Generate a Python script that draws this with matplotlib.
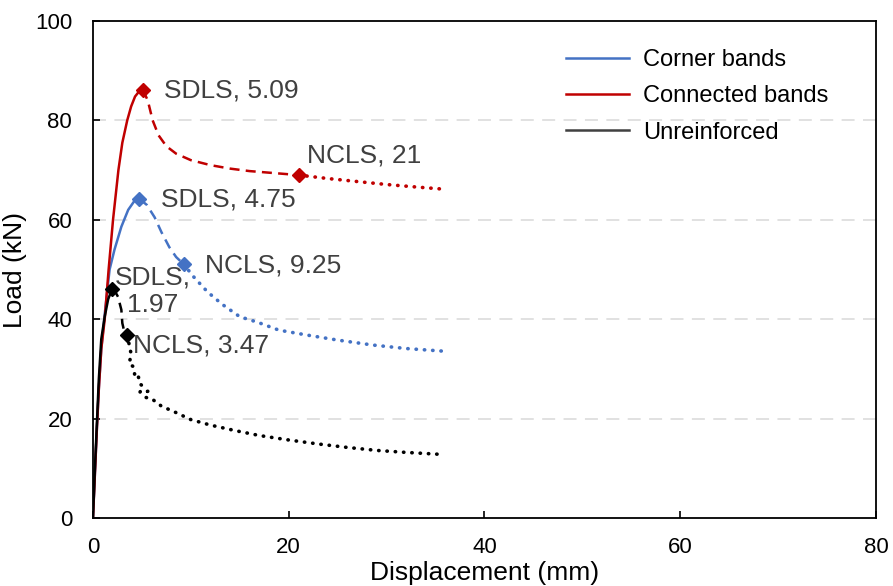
import matplotlib.pyplot as plt
from matplotlib.lines import Line2D

plt.rcParams['font.family'] = ['Liberation Sans', 'DejaVu Sans']

# Connected bands (red)
red_rise_x = [0, 0.2, 0.4, 0.6, 0.85, 1.2, 1.6, 2.05, 2.6, 3.0, 3.5, 3.9, 4.3, 4.7, 5.09]
red_rise_y = [0, 9, 18, 26, 34, 40, 50, 60, 70, 75.5, 80, 82.8, 84.8, 85.8, 86.2]
red_soft_x = [5.09, 5.6, 6.1, 6.7, 7.5, 8.5, 10, 12, 14, 16, 18.5, 21]
red_soft_y = [86.2, 84, 80, 77, 74.8, 73.3, 72, 71, 70.3, 69.8, 69.4, 69.0]
red_tail_x = [21, 24, 27, 30, 33, 35.6]
red_tail_y = [69.0, 68.3, 67.7, 67.1, 66.6, 66.2]

# Corner bands (blue)
blue_rise_x = [0, 0.2, 0.4, 0.6, 0.85, 1.2, 1.7, 2.2, 2.9, 3.6, 4.2, 4.75]
blue_rise_y = [0, 9, 18, 26, 34, 41, 50, 54, 58.6, 62, 63.7, 64.2]
blue_soft_x = [4.75, 5.5, 6.3, 7.0, 7.8, 8.5, 9.25]
blue_soft_y = [64.2, 63, 60.5, 57.5, 54.5, 52.5, 51.1]
blue_tail_x = [9.25, 10.3, 11.7, 13.2, 15, 16.8, 19, 21.9, 25, 28.6, 32, 35.6]
blue_tail_y = [51.1, 48.5, 45.5, 43, 40.5, 39.4, 37.8, 36.8, 35.8, 34.8, 34.1, 33.6]

# Unreinforced (black)
blk_rise_x = [0, 0.2, 0.4, 0.6, 0.85, 1.2, 1.55, 1.94]
blk_rise_y = [0, 10, 19, 28, 36, 40.5, 44, 46.0]
blk_soft_x = [1.94, 2.2, 2.56, 2.9, 3.0, 3.2, 3.5]
blk_soft_y = [46.0, 45.8, 44.5, 41.9, 39.2, 37.5, 36.8]
blk_tail_x = [3.5, 3.9, 3.7, 4.1, 4.3, 4.6, 4.8, 5.1, 4.8, 5.6, 5.3, 6.0, 7, 8.5,
              10, 12, 14.5, 17, 20, 23, 26, 29, 32, 35.6]
blk_tail_y = [36.8, 33, 31, 30.5, 28.5, 28.8, 27, 26.5, 25.3, 25.5, 24.3, 24, 22.5, 21.2,
              19.8, 18.7, 17.6, 16.6, 15.7, 14.9, 14.2, 13.6, 13.2, 12.8]

series = [
    ('Corner bands', '#4472C4', blue_rise_x, blue_rise_y, blue_soft_x, blue_soft_y, blue_tail_x, blue_tail_y),
    ('Connected bands', '#C00000', red_rise_x, red_rise_y, red_soft_x, red_soft_y, red_tail_x, red_tail_y),
    ('Unreinforced', '#000000', blk_rise_x, blk_rise_y, blk_soft_x, blk_soft_y, blk_tail_x, blk_tail_y),
]

labels = [
    ('SDLS, 5.09', 7.3, 86.1, 'left'),
    ('NCLS, 21', 21.9, 73.0, 'left'),
    ('SDLS, 4.75', 7.0, 64.0, 'left'),
    ('NCLS, 9.25', 11.4, 50.9, 'left'),
    ('SDLS,\n1.97', 6.1, 45.6, 'center'),
    ('NCLS, 3.47', 4.1, 34.8, 'left'),
]

fig = plt.figure(figsize=(8.93, 5.86), dpi=100)
ax = fig.add_axes([0.1041, 0.116, 0.8769, 0.8482])

for y in [20, 40, 60, 80]:
    ax.axhline(y, color='#d9d9d9', lw=1.1, linestyle=(0, (8.5, 5.5)), zorder=0)

lw = 1.8
for name, c, rx, ry, sx, sy, tx, ty in series:
    ax.plot(rx, ry, color=c, lw=lw, solid_capstyle='round', solid_joinstyle='round')
    ax.plot(sx, sy, color=c, lw=lw, linestyle=(0, (4, 2.5)))
    ax.plot(tx, ty, color=c, lw=2.6, linestyle=(0, (0.1, 2.2)), dash_capstyle='round')
    ax.plot([sx[0], sx[-1]], [sy[0], sy[-1]], linestyle='none', marker='D',
            markersize=7, color=c, zorder=5)

for txt, x, y, ha in labels:
    ax.text(x, y, txt, fontsize=19, color='#404040', ha=ha, va='center',
            multialignment='center')

ax.set_xlim(0, 80)
ax.set_ylim(0, 100)
ax.set_xticks([0, 20, 40, 60, 80])
ax.set_yticks([0, 20, 40, 60, 80, 100])
ax.tick_params(direction='in', length=5, width=1.2, labelsize=16, colors='black')
ax.tick_params(axis='x', pad=14)
ax.tick_params(axis='y', pad=15)
for s in ax.spines.values():
    s.set_linewidth(1.3)

ax.set_xlabel('Displacement (mm)', fontsize=19, labelpad=2)
ax.set_ylabel('Load (kN)', fontsize=19, labelpad=6)

handles = [Line2D([], [], color='#4472C4', lw=1.8),
           Line2D([], [], color='#C00000', lw=1.8),
           Line2D([], [], color='#404040', lw=1.8)]
ax.legend(handles, ['Corner bands', 'Connected bands', 'Unreinforced'],
          loc='upper left', bbox_to_anchor=(0.592, 0.962), borderaxespad=0,
          frameon=False, fontsize=17, handlelength=2.67, handletextpad=0.6,
          labelspacing=0.6)

fig.savefig('out.png', dpi=100)
